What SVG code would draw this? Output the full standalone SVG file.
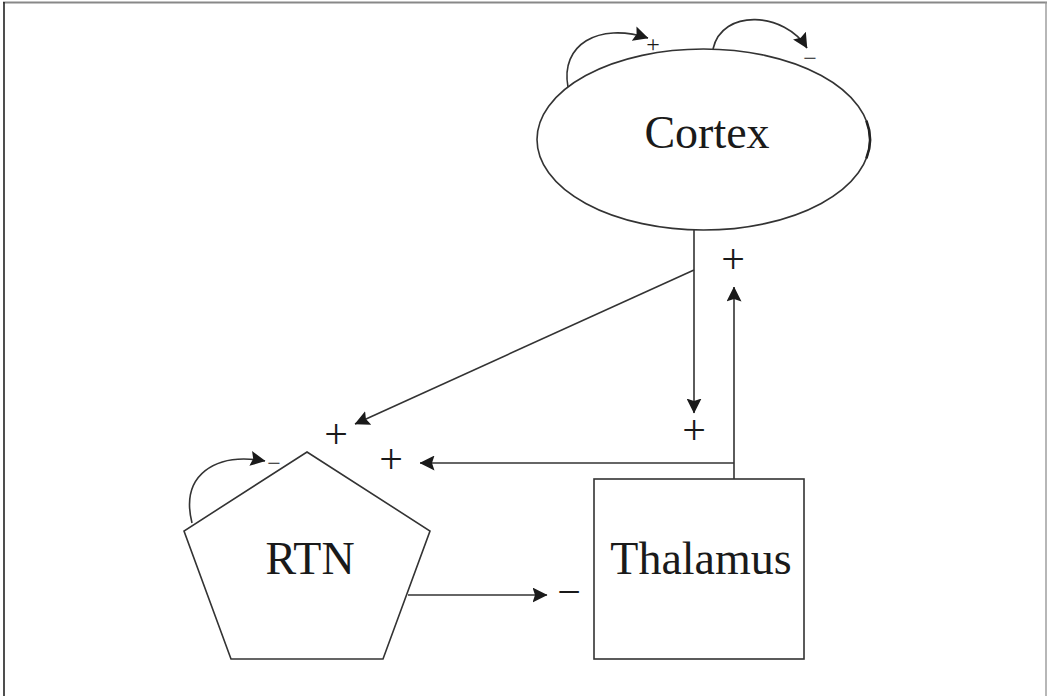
<svg xmlns="http://www.w3.org/2000/svg" width="1047" height="696" viewBox="0 0 1047 696">
<style>
.shape{fill:#fff;stroke:#333;stroke-width:1.6}
.conn{fill:none;stroke:#333;stroke-width:1.6}
.lbl{font-family:"Liberation Serif","Times New Roman",serif;fill:#1a1a1a;text-anchor:middle}
.big{font-size:46px}
.sign{font-size:42px}
.small{font-size:24px}
</style>
<defs>
<marker id="ah" markerUnits="userSpaceOnUse" markerWidth="15" markerHeight="15" viewBox="0 0 15 15" refX="14.5" refY="7.5" orient="auto">
<path d="M0,0 L15,7.5 L0,15 L2.5,7.5 Z" fill="#1a1a1a"/>
</marker>
</defs>
<rect width="1047" height="696" fill="#fff"/>
<g id="frame">
<line x1="3" y1="2.5" x2="1047" y2="2.5" stroke="#888" stroke-width="2"/>
<line x1="4" y1="2" x2="4" y2="696" stroke="#222" stroke-width="1.6"/>
<line x1="1046" y1="2" x2="1046" y2="696" stroke="#999" stroke-width="1.4"/>
</g>
<g id="cortex">
<ellipse class="shape" cx="703.5" cy="139.5" rx="166.5" ry="90.5"/>
<path d="M866.4,120.7 A166.5,90.5 0 0 1 866.4,158.3" fill="none" stroke="#222" stroke-width="2.6"/>
<text class="lbl big" x="707" y="148">Cortex</text>
</g>
<g id="rtn">
<polygon class="shape" points="307,452 430,531 383,659 231,659 184,531"/>
<text class="lbl big" x="310" y="574">RTN</text>
</g>
<g id="thalamus">
<rect class="shape" x="594" y="479" width="210" height="180"/>
<text class="lbl big" x="701" y="574">Thalamus</text>
</g>
<g id="connectors">
<path class="conn" d="M568,87 C560,45 598,22 648,38" marker-end="url(#ah)"/>
<path class="conn" d="M713,49 C722,8 785,12 807,48" marker-end="url(#ah)"/>
<path class="conn" d="M192,523 C180,475 215,452 265,461" marker-end="url(#ah)"/>
<line class="conn" x1="694" y1="230" x2="694" y2="413" marker-end="url(#ah)"/>
<line class="conn" x1="694" y1="270" x2="355" y2="424" marker-end="url(#ah)"/>
<line class="conn" x1="734" y1="479" x2="734" y2="287" marker-end="url(#ah)"/>
<polyline class="conn" points="734,463 420,463" marker-end="url(#ah)"/>
<line class="conn" x1="408" y1="595" x2="547" y2="595" marker-end="url(#ah)"/>
</g>
<g id="labels">
<text class="lbl small" x="653" y="52">+</text>
<text class="lbl small" x="810" y="66">−</text>
<text class="lbl small" x="274" y="471">−</text>
<text class="lbl sign" x="336" y="447.5">+</text>
<text class="lbl sign" x="391" y="472.5">+</text>
<text class="lbl sign" x="733" y="272.5">+</text>
<text class="lbl sign" x="694" y="443.5">+</text>
<text class="lbl sign" x="569" y="605.5">−</text>
</g>
</svg>
